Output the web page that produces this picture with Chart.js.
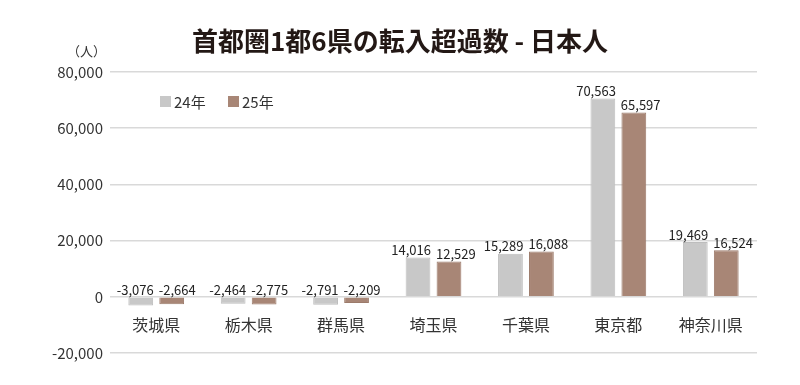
<!DOCTYPE html>
<html>
<head>
<meta charset="utf-8">
<script src="https://cdn.jsdelivr.net/npm/chart.js@4"></script>
<style>
    html, body { margin: 0; padding: 0; background: #fff; }
    #wrap { width: 800px; height: 385px; position: relative; }
</style>
</head>
<body>
<div id="wrap"><canvas id="myChart" width="800" height="385"></canvas></div>
<script>
const prefectures = ['茨城県', '栃木県', '群馬県', '埼玉県', '千葉県', '東京都', '神奈川県'];
const year24 = [-3076, -2464, -2791, 14016, 15289, 70563, 19469];
const year25 = [-2664, -2775, -2209, 12529, 16088, 65597, 16524];
const seriesNames = ['24年', '25年'];
const yTicks = [-20000, 0, 20000, 40000, 60000, 80000];

const FONT = '"Noto Sans CJK JP", "Noto Sans", sans-serif';
const NARROW = '"Liberation Sans Narrow", "Noto Sans CJK JP", sans-serif';
const grayColor = '#c8c8c8';
const brownColor = '#a88676';

// title, unit, legend, category names and value labels
const decorations = {
    id: 'decorations',
    afterDatasetsDraw(chart) {
        const ctx = chart.ctx;
        const yScale = chart.scales.y;
        const xScale = chart.scales.x;
        ctx.save();

        // title
        ctx.fillStyle = '#231815';
        ctx.font = 'bold 26px ' + FONT;
        ctx.textAlign = 'center';
        ctx.textBaseline = 'middle';
        ctx.fillText('首都圏1都6県の転入超過数 - 日本人', 400, 41);

        // unit
        ctx.fillStyle = '#333';
        ctx.font = '13px ' + FONT;
        ctx.textAlign = 'right';
        ctx.fillText('（人）', 106, 51);

        // legend
        const colors = [grayColor, brownColor];
        const legendX = [160, 228];
        ctx.font = '15px ' + FONT;
        ctx.textAlign = 'left';
        for (let i = 0; i < seriesNames.length; i++) {
            ctx.fillStyle = colors[i];
            ctx.fillRect(legendX[i], 96, 11, 11);
            ctx.fillStyle = '#333';
            ctx.fillText(seriesNames[i], legendX[i] + 14, 102);
        }

        // category names, sitting between 0 and -20,000
        ctx.font = '16px ' + FONT;
        ctx.textAlign = 'center';
        const labelY = yScale.getPixelForValue(-10000);
        prefectures.forEach(function (name, i) {
            ctx.fillText(name, xScale.getPixelForValue(i), labelY);
        });

        // value labels above the bars (or above the zero line),
        // pushed apart when the pair would overlap
        ctx.font = '13px ' + NARROW;
        ctx.fillStyle = '#222';
        ctx.textBaseline = 'bottom';
        const m0 = chart.getDatasetMeta(0).data;
        const m1 = chart.getDatasetMeta(1).data;
        prefectures.forEach(function (name, i) {
            const t0 = year24[i].toLocaleString('en-US');
            const t1 = year25[i].toLocaleString('en-US');
            const w0 = ctx.measureText(t0).width;
            const w1 = ctx.measureText(t1).width;
            let x0 = m0[i].x, x1 = m1[i].x;
            const y0 = Math.min(m0[i].y, m0[i].base) - 1;
            const y1 = Math.min(m1[i].y, m1[i].base) - 1;
            if (Math.abs(y0 - y1) < 14) {
                const overlap = (x0 + w0 / 2 + 5) - (x1 - w1 / 2);
                if (overlap > 0) {
                    x0 -= overlap / 2;
                    x1 += overlap / 2;
                }
            }
            ctx.fillText(t0, x0, y0);
            ctx.fillText(t1, x1, y1);
        });

        ctx.restore();
    }
};

const ctx = document.getElementById('myChart').getContext('2d');
const chart = new Chart(ctx, {
    type: 'bar',
    data: {
        labels: prefectures,
        datasets: [{
            label: seriesNames[0],
            data: year24,
            backgroundColor: grayColor,
            borderColor: '#bdbdbd',
            borderWidth: 1
        }, {
            label: seriesNames[1],
            data: year25,
            backgroundColor: brownColor,
            borderColor: '#9c7b6b',
            borderWidth: 1
        }]
    },
    options: {
        responsive: false,
        animation: false,
        layout: { padding: { top: 72, bottom: 32, right: 43, left: 0 } },
        plugins: {
            legend: { display: false },
            title: { display: false },
            tooltip: { enabled: false }
        },
        datasets: {
            bar: { categoryPercentage: 0.67, barPercentage: 0.8 }
        },
        scales: {
            x: { display: false },
            y: {
                min: -20000,
                max: 80000,
                afterFit(scale) { scale.width = 110; },
                afterBuildTicks(scale) {
                    scale.ticks = yTicks.map(function (v) { return { value: v }; });
                },
                border: { display: false },
                grid: { color: '#d9d9d9', lineWidth: 1.5, drawTicks: false },
                ticks: {
                    padding: 7,
                    color: '#333',
                    font: { size: 15, family: FONT },
                    callback: function (v) { return v.toLocaleString('en-US'); }
                }
            }
        }
    },
    plugins: [decorations]
});
</script>
</body>
</html>
